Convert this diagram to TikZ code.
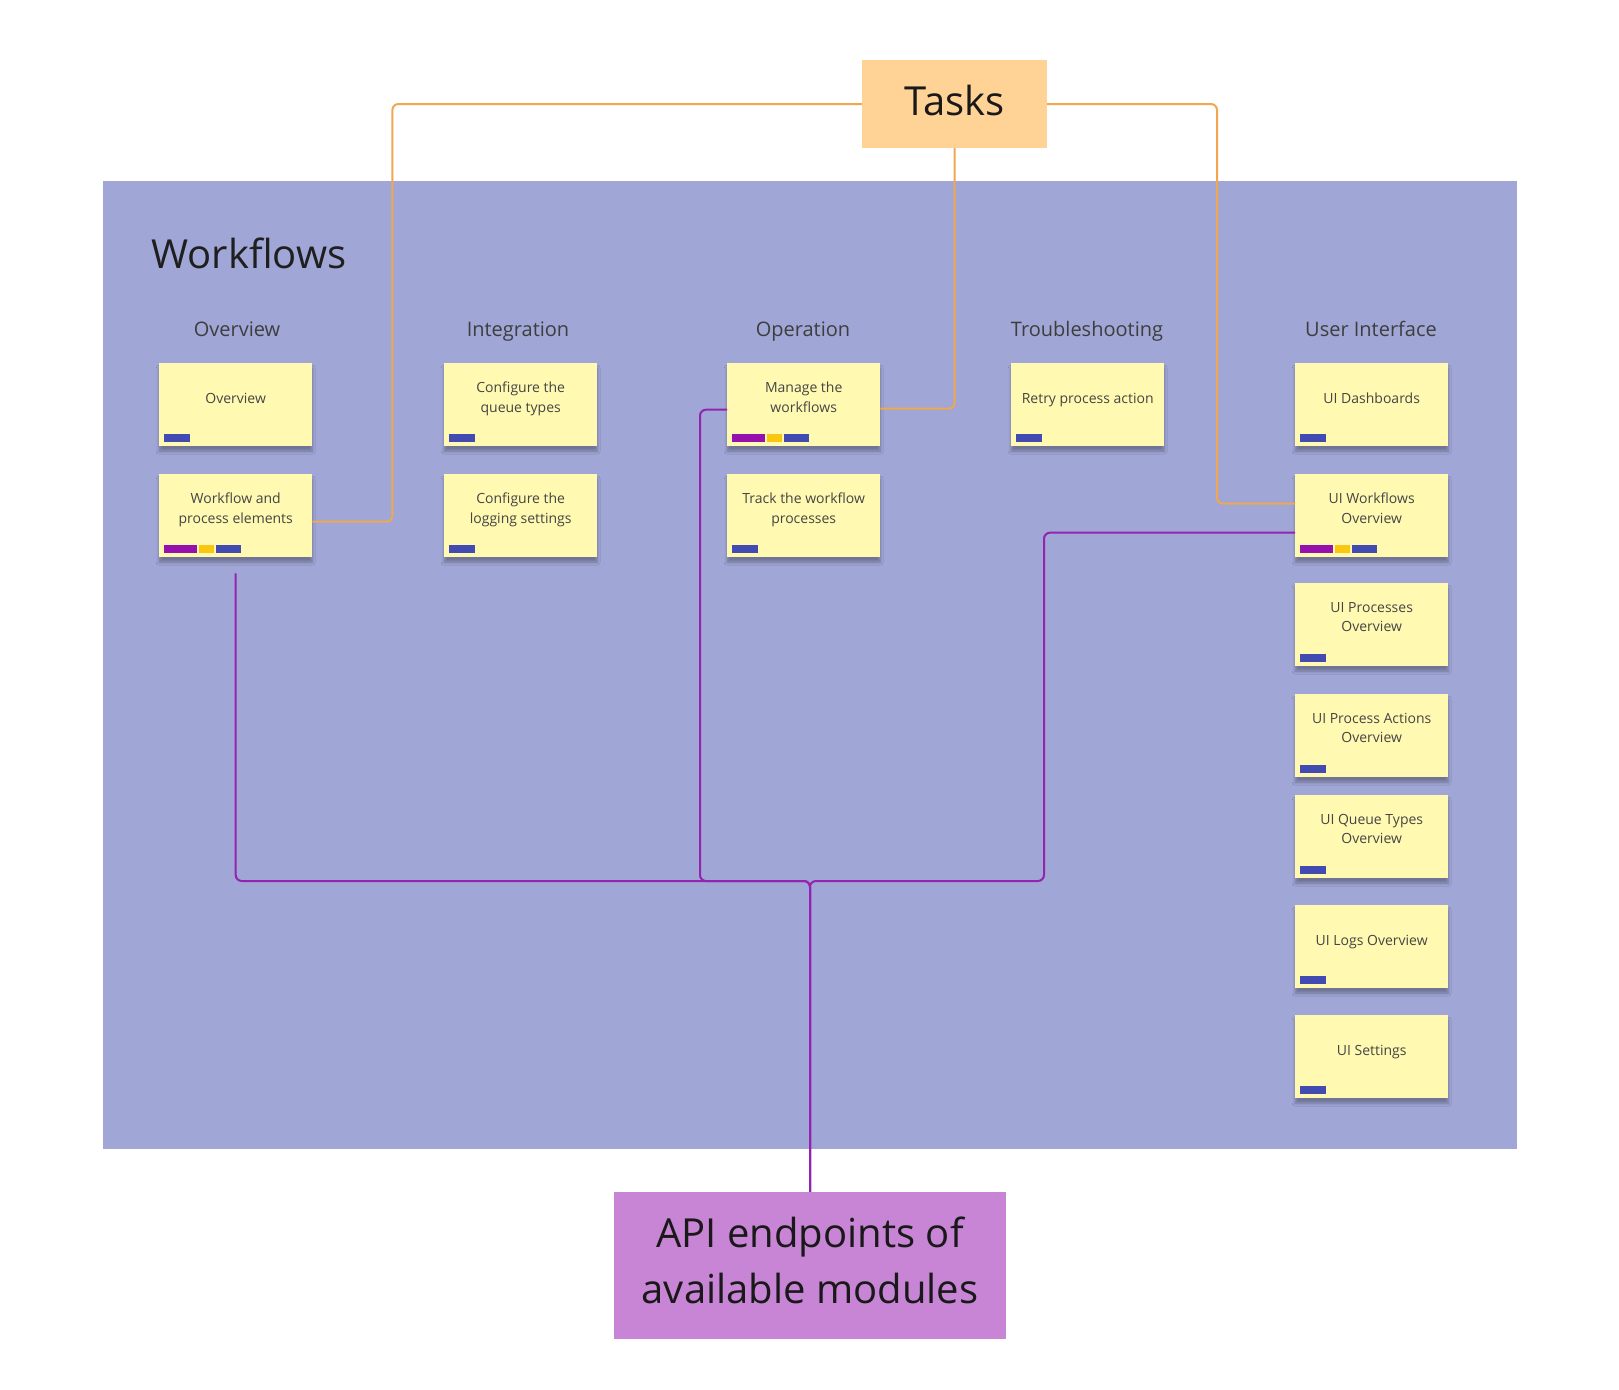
\documentclass[tikz,border=0pt]{standalone}
\usepackage{fontspec}
\setmainfont{Open Sans}
\usetikzlibrary{positioning, shadows.blur}

\definecolor{panelblue}{HTML}{A0A6D6}
\definecolor{stickyyellow}{HTML}{FFF9B1}
\definecolor{tasksorange}{HTML}{FFD296}
\definecolor{apiviolet}{HTML}{C884D5}
\definecolor{linkorange}{HTML}{F0A750}
\definecolor{linkpurple}{HTML}{9324B0}
\definecolor{tagpurple}{HTML}{9510AC}
\definecolor{tagyellow}{HTML}{FAC710}
\definecolor{tagblue}{HTML}{414BB2}
\definecolor{inkgray}{HTML}{454545}

\tikzset{
  sticky/.style = {
    rectangle, fill=stickyyellow, anchor=north west, inner sep=0pt,
    minimum width=153pt, minimum height=83pt,
    blur shadow={shadow xshift=0pt, shadow yshift=-5pt, shadow opacity=30, shadow blur steps=6, shadow blur radius=3pt}
  },
  struts/.style = {execute at begin node=\strut, execute at end node=\strut},
  note/.style = {align=center, text=inkgray, struts, inner sep=0pt, font=\fontsize{14}{19.5}\selectfont},
  colhead/.style = {text=inkgray!90!black, text height=15pt, text depth=5pt, font=\fontsize{20}{24}\selectfont},
  bigbox/.style = {rectangle, inner sep=0pt, text=black!90, align=center, struts, font=\fontsize{40}{56}\selectfont},
  orangeline/.style = {draw=linkorange, line width=2pt, rounded corners=6pt},
  purpleline/.style = {draw=linkpurple, line width=2pt, rounded corners=6pt}
}

% tag bars at the foot of a sticky
\newcommand{\bluetag}[1]{\fill[tagblue] ([shift={(5pt,4pt)}]#1.south west) rectangle ++(26pt,8pt);}
\newcommand{\threetags}[1]{%
  \fill[tagpurple] ([shift={(5pt,4pt)}]#1.south west) rectangle ++(33pt,8pt);
  \fill[tagyellow] ([shift={(40pt,4pt)}]#1.south west) rectangle ++(15pt,8pt);
  \fill[tagblue] ([shift={(57pt,4pt)}]#1.south west) rectangle ++(25pt,8pt);}

\begin{document}
\begin{tikzpicture}[x=1pt, y=-1pt]

  \useasboundingbox (0,0) rectangle (1619,1389);

  %% Workflows board
  \fill[panelblue] (103,181) rectangle (1517,1149);
  \node[text=black!88, font=\fontsize{40}{48}\selectfont] (title) at (249,253) {Workflows};

  % Column heads
  \node[colhead] (hov) at (237,331) {Overview};
  \node[colhead] (hint) at (518,331) {Integration};
  \node[colhead] (hop) at (803,331) {Operation};
  \node[colhead] (htr) at (1087,331) {Troubleshooting};
  \node[colhead] (hui) at (1371,331) {User Interface};

  % Overview
  \node[sticky] (ov) at (159,363) {};
  \node[note] at ([yshift=-37pt]ov.north) {Overview};
  \bluetag{ov}
  \node[sticky] (wf) at (159,474) {};
  \node[note] at ([yshift=-37pt]wf.north) {Workflow and\\process elements};
  \threetags{wf}

  % Integration
  \node[sticky] (cq) at (444,363) {};
  \node[note] at ([yshift=-37pt]cq.north) {Configure the\\queue types};
  \bluetag{cq}
  \node[sticky] (cl) at (444,474) {};
  \node[note] at ([yshift=-37pt]cl.north) {Configure the\\logging settings};
  \bluetag{cl}

  % Operation
  \node[sticky] (man) at (727,363) {};
  \node[note] at ([yshift=-37pt]man.north) {Manage the\\workflows};
  \threetags{man}
  \node[sticky] (trk) at (727,474) {};
  \node[note] at ([yshift=-37pt]trk.north) {Track the workflow\\processes};
  \bluetag{trk}

  % Troubleshooting
  \node[sticky] (rt) at (1011,363) {};
  \node[note] at ([yshift=-37pt]rt.north) {Retry process action};
  \bluetag{rt}

  % User Interface
  \node[sticky] (uid) at (1295,363) {};
  \node[note] at ([yshift=-37pt]uid.north) {UI Dashboards};
  \bluetag{uid}
  \node[sticky] (uiw) at (1295,474) {};
  \node[note] at ([yshift=-37pt]uiw.north) {UI Workflows\\Overview};
  \threetags{uiw}
  \node[sticky] (uip) at (1295,583) {};
  \node[note] at ([yshift=-37pt]uip.north) {UI Processes\\Overview};
  \bluetag{uip}
  \node[sticky] (uia) at (1295,694) {};
  \node[note] at ([yshift=-37pt]uia.north) {UI Process Actions\\Overview};
  \bluetag{uia}
  \node[sticky] (uiq) at (1295,795) {};
  \node[note] at ([yshift=-37pt]uiq.north) {UI Queue Types\\Overview};
  \bluetag{uiq}
  \node[sticky] (uil) at (1295,905) {};
  \node[note] at ([yshift=-37pt]uil.north) {UI Logs Overview};
  \bluetag{uil}
  \node[sticky] (uis) at (1295,1015) {};
  \node[note] at ([yshift=-37pt]uis.north) {UI Settings};
  \bluetag{uis}

  %% Tasks and API boxes
  \node[bigbox, fill=tasksorange, minimum width=185pt, minimum height=88pt] (tasks) at (954.5,104) {Tasks};
  \node[rectangle, fill=apiviolet, minimum width=392pt, minimum height=147pt] (api) at (810,1265.5) {};
  \node[bigbox] at ([yshift=-3pt]api.center) {API endpoints of\\available modules};

  % Tasks links
  \draw[orangeline] (tasks.west) -| ([xshift=80pt,yshift=-6pt]wf.east) -- ([yshift=-6pt]wf.east);
  \draw[orangeline] (tasks.south) |- ([yshift=-4pt]man.east);
  \draw[orangeline] (tasks.east) -| ([xshift=-78pt,yshift=12pt]uiw.west) -- ([yshift=12pt]uiw.west);

  % API links
  \coordinate (jn) at (810,881);
  \draw[purpleline] ([yshift=-16pt]wf.south) |- (jn) -- (api.north);
  \draw[purpleline] ([yshift=-5pt]man.west) -- ++(-27,0) |- (jn) -- (api.north);
  \draw[purpleline] ([yshift=-17pt]uiw.west) -- ++(-251,0) |- (jn) -- (api.north);

\end{tikzpicture}
\end{document}
